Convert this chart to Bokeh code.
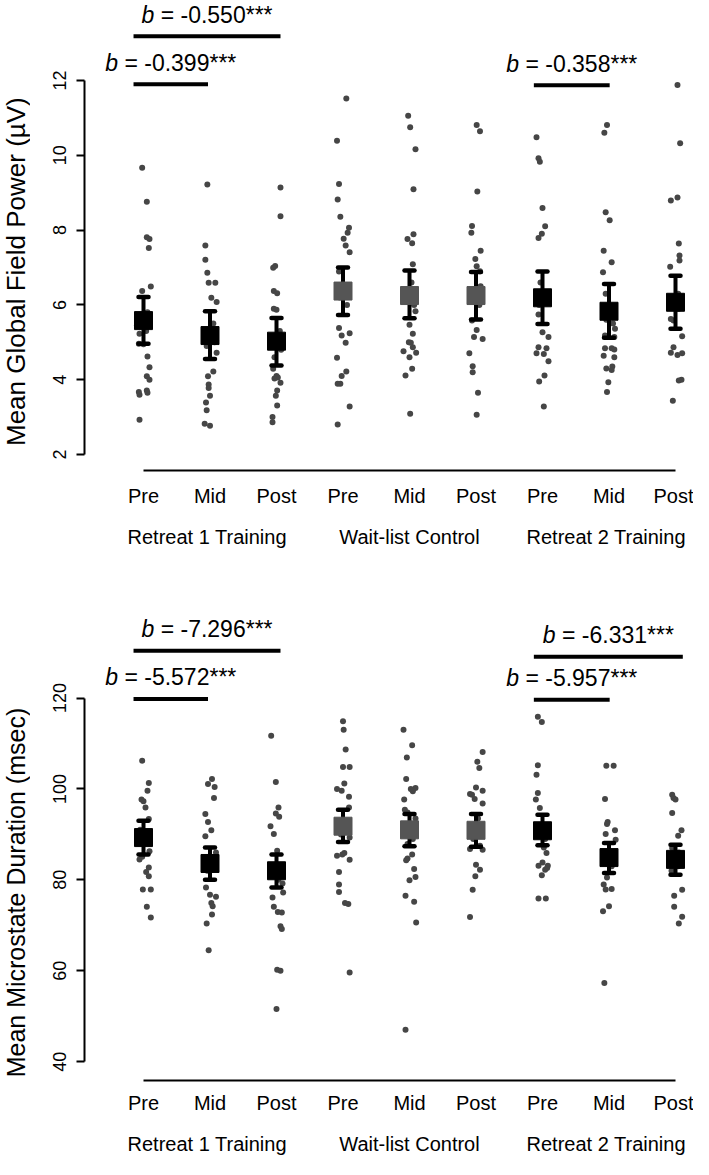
from math import pi
from bokeh.plotting import figure
from bokeh.models import Range1d, FixedTicker, LinearAxis, Label, ColumnDataSource
from bokeh.layouts import column, row
from bokeh.core.properties import value
from bokeh.embed import file_html
from bokeh.resources import INLINE

# ---------------- data ----------------
conditions = ["Pre", "Mid", "Post", "Pre", "Mid", "Post", "Pre", "Mid", "Post"]
groups = ["Retreat  1 Training", "Wait-list Control", "Retreat  2 Training"]
group_center = [1, 4, 7]
is_control = [0, 0, 0, 1, 1, 1, 0, 0, 0]

# Panel A: Mean Global Field Power (uV), individual participants
gfp_values = [
    [9.67, 8.76, 7.81, 7.76, 7.52, 6.49, 6.37, 5.80, 5.60, 5.45, 5.30, 5.23, 4.96, 4.95, 4.62, 4.33, 4.09, 4.00, 3.71, 3.67, 3.65, 3.60, 2.93],
    [9.22, 7.59, 7.21, 6.86, 6.59, 6.59, 6.19, 6.08, 5.50, 5.30, 5.00, 4.90, 4.72, 4.22, 4.09, 3.87, 3.78, 3.57, 3.39, 3.18, 2.82, 2.77],
    [9.14, 8.37, 7.04, 6.99, 6.37, 6.31, 5.90, 5.87, 5.30, 5.10, 4.80, 4.60, 4.29, 4.10, 4.06, 4.03, 3.92, 3.71, 3.57, 3.31, 3.00, 2.86],
    [11.52, 10.39, 9.23, 8.82, 8.36, 8.06, 7.93, 7.77, 7.59, 7.41, 6.89, 6.50, 6.20, 6.00, 5.38, 5.24, 5.18, 4.99, 4.59, 4.22, 4.10, 3.89, 3.89, 3.28, 2.80],
    [11.06, 10.75, 10.16, 9.09, 7.89, 7.76, 7.65, 7.09, 6.60, 6.30, 6.00, 5.83, 5.47, 5.23, 5.00, 4.99, 4.87, 4.76, 4.72, 4.60, 4.29, 4.11, 3.09],
    [10.81, 10.64, 9.03, 8.11, 7.93, 7.45, 7.23, 7.03, 6.90, 6.50, 6.20, 6.00, 5.58, 5.33, 5.14, 5.09, 4.71, 4.36, 4.20, 3.65, 3.06],
    [10.48, 9.92, 9.83, 8.59, 8.10, 7.90, 7.79, 6.60, 6.20, 6.00, 5.74, 5.27, 5.14, 4.87, 4.84, 4.71, 4.69, 4.49, 4.11, 3.95, 3.28],
    [10.81, 10.60, 8.48, 8.26, 7.45, 7.14, 6.87, 6.30, 5.90, 5.60, 5.50, 5.36, 5.18, 5.14, 4.84, 4.84, 4.81, 4.64, 4.60, 4.35, 4.30, 4.26, 3.93, 3.67],
    [11.88, 10.32, 8.87, 8.79, 7.64, 7.32, 7.19, 7.02, 6.30, 6.10, 5.90, 5.62, 5.58, 5.16, 4.87, 4.72, 4.71, 4.66, 4.00, 3.98, 3.44],
]
gfp_jitter = [
    [-0.02, 0.05, 0.05, 0.09, 0.08, 0.11, -0.02, 0.06, -0.08, -0.10, 0.04, -0.06, -0.07, 0.00, 0.06, 0.09, 0.05, 0.09, 0.05, -0.07, 0.06, -0.06, -0.06],
    [-0.04, -0.07, -0.07, -0.04, -0.02, 0.08, 0.02, 0.10, 0.05, -0.03, 0.07, -0.05, 0.10, 0.05, -0.03, -0.02, -0.02, 0.00, -0.06, -0.05, -0.08, 0.00],
    [0.06, 0.06, -0.02, -0.05, -0.04, 0.01, -0.04, 0.00, 0.05, -0.06, 0.07, -0.03, -0.05, 0.00, 0.02, -0.03, 0.06, 0.01, -0.01, 0.01, -0.06, -0.06],
    [0.05, -0.09, -0.06, -0.08, -0.04, 0.09, 0.07, 0.01, 0.04, 0.10, -0.06, 0.04, -0.05, 0.06, -0.06, 0.10, -0.02, 0.04, -0.09, 0.05, -0.02, -0.08, -0.04, 0.10, -0.08],
    [-0.02, 0.01, 0.09, 0.06, 0.06, -0.03, 0.04, 0.05, 0.03, -0.05, 0.07, 0.09, 0.00, 0.05, -0.01, 0.02, 0.05, -0.09, 0.10, 0.00, 0.04, -0.06, 0.01],
    [0.01, 0.06, 0.02, -0.06, -0.07, 0.07, -0.01, 0.01, 0.06, 0.07, -0.04, 0.05, -0.06, 0.01, -0.03, 0.10, -0.10, -0.05, -0.05, 0.03, 0.01],
    [-0.09, -0.06, -0.04, 0.00, 0.04, -0.01, -0.06, -0.03, 0.05, -0.05, -0.06, 0.00, 0.09, -0.06, 0.06, -0.09, 0.02, 0.09, 0.03, -0.05, 0.02],
    [-0.03, -0.07, -0.05, 0.01, -0.08, 0.04, -0.09, -0.05, 0.05, -0.04, 0.06, 0.09, -0.06, 0.08, -0.06, 0.04, 0.08, -0.08, 0.08, 0.05, -0.04, 0.04, -0.01, -0.03],
    [0.03, 0.07, 0.03, -0.07, 0.05, 0.06, 0.06, -0.08, 0.04, -0.05, 0.05, -0.07, -0.03, 0.10, -0.03, -0.07, 0.10, 0.03, 0.09, 0.05, -0.04],
]
gfp_mean = [5.58, 5.18, 5.03, 6.37, 6.25, 6.25, 6.19, 5.83, 6.07]
gfp_upper = [6.21, 5.83, 5.65, 7.00, 6.92, 6.88, 6.89, 6.56, 6.78]
gfp_lower = [4.96, 4.55, 4.38, 5.73, 5.64, 5.61, 5.49, 5.12, 5.36]
gfp_bracket_x0 = [-0.15, -0.15, 5.87]
gfp_bracket_x1 = [0.97, 2.06, 7.01]
gfp_bracket_y = [11.90, 13.18, 11.87]
gfp_bracket_b = ["-0.399", "-0.550", "-0.358"]

# Panel B: Mean Microstate Duration (msec)
dur_values = [
    [106.2, 101.3, 99.6, 97.7, 97.3, 95.9, 93.4, 91.0, 89.0, 88.0, 86.3, 85.1, 84.5, 82.7, 81.7, 80.8, 77.9, 77.9, 74.1, 71.7],
    [102.2, 101.1, 100.4, 98.0, 94.5, 92.7, 90.9, 89.6, 86.0, 85.0, 84.0, 82.0, 78.3, 76.7, 76.3, 74.9, 74.2, 72.4, 70.4, 64.5],
    [111.7, 101.5, 95.9, 94.6, 93.9, 91.8, 90.1, 86.4, 83.0, 82.0, 80.0, 79.2, 77.2, 76.1, 74.1, 72.9, 72.8, 69.8, 69.2, 60.2, 60.0, 51.6],
    [114.9, 113.0, 108.7, 104.8, 104.8, 101.2, 100.0, 99.6, 98.3, 95.9, 93.0, 91.0, 90.0, 89.3, 85.9, 85.6, 85.3, 84.4, 81.7, 79.0, 77.3, 74.9, 74.7, 59.6],
    [113.0, 109.6, 106.9, 102.2, 100.2, 100.0, 99.5, 97.7, 95.4, 94.8, 93.5, 92.0, 90.0, 89.0, 87.9, 85.6, 84.7, 84.3, 82.4, 80.6, 79.9, 76.5, 75.2, 70.6, 47.0],
    [108.1, 106.0, 104.6, 100.3, 99.6, 98.9, 98.7, 97.8, 96.8, 93.5, 92.0, 90.0, 89.0, 87.5, 86.8, 86.6, 83.3, 82.2, 80.8, 77.8, 71.8],
    [115.9, 114.7, 105.2, 103.1, 99.1, 97.7, 95.8, 92.0, 91.0, 89.0, 87.1, 85.9, 83.8, 83.1, 83.1, 82.6, 82.2, 81.0, 75.9, 75.9],
    [105.1, 105.1, 97.8, 92.7, 92.3, 90.9, 90.1, 88.8, 86.0, 85.0, 83.0, 80.5, 79.0, 78.0, 77.9, 74.2, 73.1, 57.3],
    [98.7, 98.0, 97.7, 94.7, 90.9, 89.7, 87.0, 86.0, 85.0, 83.0, 82.0, 77.8, 76.5, 74.1, 71.9, 70.4],
]
dur_jitter = [
    [-0.02, 0.08, 0.06, -0.03, 0.00, 0.03, 0.08, -0.05, 0.06, -0.07, 0.09, -0.02, -0.06, 0.08, 0.04, 0.08, -0.01, 0.11, 0.05, 0.11],
    [0.03, -0.03, 0.07, 0.06, -0.07, -0.03, 0.02, -0.07, 0.09, -0.05, 0.06, -0.04, -0.06, 0.00, 0.09, 0.02, 0.04, 0.03, -0.05, -0.02],
    [-0.08, -0.01, 0.03, -0.01, 0.04, -0.09, -0.04, 0.01, -0.05, 0.06, 0.03, 0.09, 0.10, -0.06, -0.04, 0.02, 0.08, 0.06, 0.08, 0.01, 0.06, 0.00],
    [0.00, 0.01, 0.04, 0.00, 0.10, 0.02, -0.09, -0.02, 0.09, 0.09, -0.05, 0.05, -0.03, 0.10, 0.02, -0.01, -0.09, 0.10, -0.06, -0.06, -0.06, 0.03, 0.08, 0.10],
    [-0.09, 0.04, -0.04, -0.05, 0.09, 0.02, 0.05, -0.08, -0.07, -0.03, 0.09, 0.00, -0.05, 0.05, -0.03, 0.04, -0.03, -0.05, 0.07, 0.09, 0.00, -0.06, 0.07, 0.10, -0.06],
    [0.10, 0.02, 0.05, 0.00, 0.10, -0.09, -0.06, -0.02, 0.10, 0.03, -0.05, 0.05, -0.04, 0.06, -0.09, 0.10, 0.00, 0.06, -0.01, -0.05, -0.09],
    [-0.07, -0.01, -0.07, -0.09, -0.07, -0.10, -0.04, 0.05, -0.05, 0.04, 0.02, 0.06, 0.00, 0.08, -0.06, 0.07, 0.04, -0.01, -0.06, 0.05],
    [-0.04, 0.07, -0.06, -0.02, -0.03, 0.09, -0.05, 0.10, 0.05, -0.05, 0.04, -0.03, -0.08, 0.04, -0.05, 0.00, -0.09, -0.07],
    [-0.05, -0.03, 0.00, -0.05, 0.09, 0.04, -0.05, 0.05, -0.03, 0.04, -0.06, 0.10, -0.02, -0.02, 0.10, 0.05],
]
dur_mean = [89.3, 83.6, 82.0, 91.8, 91.0, 90.9, 90.8, 84.9, 84.5]
dur_upper = [93.0, 87.1, 85.6, 95.4, 94.5, 94.5, 94.3, 88.1, 87.7]
dur_lower = [85.6, 80.0, 78.3, 88.3, 87.4, 87.3, 87.6, 81.5, 81.1]
dur_bracket_x0 = [-0.15, -0.15, 5.87, 5.87]
dur_bracket_x1 = [0.97, 2.06, 7.01, 8.11]
dur_bracket_y = [119.8, 130.4, 119.6, 129.1]
dur_bracket_b = ["-5.572", "-7.296", "-5.957", "-6.331"]

# ---------------- styling / layout ----------------
FONT = "Liberation Sans"
POINT_COLOR = "#464646"
TRAIN_COLOR = "#000000"
CTRL_COLOR = "#555555"
TOTAL_W = 693
TITLE_W = 30
MAIN_W = TOTAL_W - TITLE_W
FRAME_LEFT = 84            # y axis line position in the full row
SPACING = 66.5
FIRST_CAT = 59.0
X_START = -FIRST_CAT / SPACING
X_END = X_START + (TOTAL_W - FRAME_LEFT) / SPACING

AW = {'b': 0.556, ' ': 0.278, '=': 0.584, '-': 0.333, '.': 0.278, '*': 0.389}
for _d in "0123456789":
    AW[_d] = 0.556


def tw(s, fs):
    return sum(AW.get(c, 0.556) for c in s) * fs


def title_fig(text, height, border_bottom, y_range, title_y, fsize):
    t = figure(width=TITLE_W, height=height, output_backend="svg", toolbar_location=None,
               x_range=Range1d(0, TITLE_W), y_range=y_range,
               x_axis_location=None, y_axis_location=None,
               min_border_left=0, min_border_right=0, min_border_top=0,
               min_border_bottom=border_bottom)
    t.outline_line_color = None
    t.xgrid.grid_line_color = None
    t.ygrid.grid_line_color = None
    t.text(x=[15], y=[title_y], text=[text], angle=pi / 2,
           text_font=value(FONT), text_font_size=fsize, text_align="center",
           text_baseline="middle", text_color="black")
    return t


def panel(values, jitter, means, lower, upper, bx0, bx1, by, bb,
          ystart, yend, yticks, ybounds, px_per_unit, height, border_bottom,
          s1, s2, text_gap):
    p = figure(width=MAIN_W, height=height, output_backend="svg", toolbar_location=None,
               x_range=Range1d(X_START, X_END), y_range=Range1d(ystart, yend),
               min_border_left=FRAME_LEFT - TITLE_W, min_border_right=0,
               min_border_top=0, min_border_bottom=border_bottom)
    p.outline_line_color = None
    p.xgrid.grid_line_color = None
    p.ygrid.grid_line_color = None

    # individual participants (jittered)
    xs, ys = [], []
    for i, (vals, jit) in enumerate(zip(values, jitter)):
        for v, j in zip(vals, jit):
            xs.append(i + j)
            ys.append(v)
    p.scatter(xs, ys, marker="circle", size=6, fill_color=POINT_COLOR, line_color=None)

    # means with error bars
    idx = list(range(len(means)))
    cols = [CTRL_COLOR if c else TRAIN_COLOR for c in is_control]
    src = ColumnDataSource(dict(x=idx, m=means, lo=lower, hi=upper, c=cols))
    p.segment(x0="x", y0="lo", x1="x", y1="hi", source=src, line_color="black",
              line_width=4)
    p.scatter(x="x", y="hi", source=src, marker="dash", size=10, line_color="black",
              line_width=4.5, line_cap="round")
    p.scatter(x="x", y="lo", source=src, marker="dash", size=10, line_color="black",
              line_width=4.5, line_cap="round")
    p.scatter(x="x", y="m", source=src, marker="square", size=18, fill_color="c",
              line_color="c")

    # significance brackets
    p.segment(x0=bx0, y0=by, x1=bx1, y1=by, line_color="black", line_width=4)
    fs = 23
    for x0, x1, y, b in zip(bx0, bx1, by, bb):
        xc = (x0 + x1) / 2
        ty = y + text_gap / px_per_unit
        rest = "= " + b + "***"
        w = tw("b ", fs) + tw(rest, fs)
        p.add_layout(Label(x=xc, y=ty, x_offset=-w / 2, text="b",
                           text_font=FONT, text_font_size=f"{fs}px",
                           text_font_style="italic", text_align="left",
                           text_baseline="middle", text_color="black"))
        p.add_layout(Label(x=xc, y=ty, x_offset=-w / 2 + tw("b ", fs), text=rest,
                           text_font=FONT, text_font_size=f"{fs}px",
                           text_align="left", text_baseline="middle",
                           text_color="black"))

    # y axis
    ya = p.yaxis[0]
    ya.ticker = FixedTicker(ticks=yticks)
    ya.bounds = ybounds
    ya.major_label_orientation = "vertical"
    ya.major_tick_out = 8
    ya.major_tick_in = 0
    ya.minor_tick_line_color = None
    ya.axis_line_width = 2
    ya.major_tick_line_width = 2
    ya.major_label_standoff = 10
    ya.major_label_text_font = FONT
    ya.major_label_text_font_size = "18px"
    ya.major_label_text_color = "black"

    # x axis (conditions)
    xa = p.xaxis[0]
    xa.ticker = FixedTicker(ticks=idx)
    xa.major_label_overrides = {i: conditions[i] for i in idx}
    xa.bounds = (0, 8)
    xa.major_tick_out = 0
    xa.major_tick_in = 0
    xa.major_tick_line_color = None
    xa.minor_tick_line_color = None
    xa.axis_line_width = 2
    xa.major_label_standoff = s1
    xa.major_label_text_font = FONT
    xa.major_label_text_font_size = "20px"
    xa.major_label_text_color = "black"

    # group labels
    ga = LinearAxis(ticker=FixedTicker(ticks=group_center),
                    major_label_overrides={g: t for g, t in zip(group_center, groups)})
    ga.axis_line_color = None
    ga.major_tick_out = 0
    ga.major_tick_in = 0
    ga.major_tick_line_color = None
    ga.minor_tick_line_color = None
    ga.major_label_standoff = s2
    ga.major_label_text_font = FONT
    ga.major_label_text_font_size = "20px"
    ga.major_label_text_color = "black"
    p.add_layout(ga, "below")
    return p


H1 = 551
H2 = 608
p1 = panel(gfp_values, gfp_jitter, gfp_mean, gfp_lower, gfp_upper,
           gfp_bracket_x0, gfp_bracket_x1, gfp_bracket_y, gfp_bracket_b,
           1.572, 14.139, [2, 4, 6, 8, 10, 12], (2, 12), 37.4, H1, 81, 14, 16, 21)
p2 = panel(dur_values, dur_jitter, dur_mean, dur_lower, dur_upper,
           dur_bracket_x0, dur_bracket_x1, dur_bracket_y, dur_bracket_b,
           35.86, 152.23, [40, 60, 80, 100, 120], (40, 120), 4.546, H2, 79, 11, 16, 22)
t1 = title_fig("Mean Global Field Power (\u00b5V)", H1, 81, p1.y_range, 6.89, "26px")
t2 = title_fig("Mean Microstate Duration (msec)", H2, 79, p2.y_range, 77.2, "25px")

layout = column(row(t1, p1), row(t2, p2))
open("out.html", "w").write(file_html(layout, INLINE))
